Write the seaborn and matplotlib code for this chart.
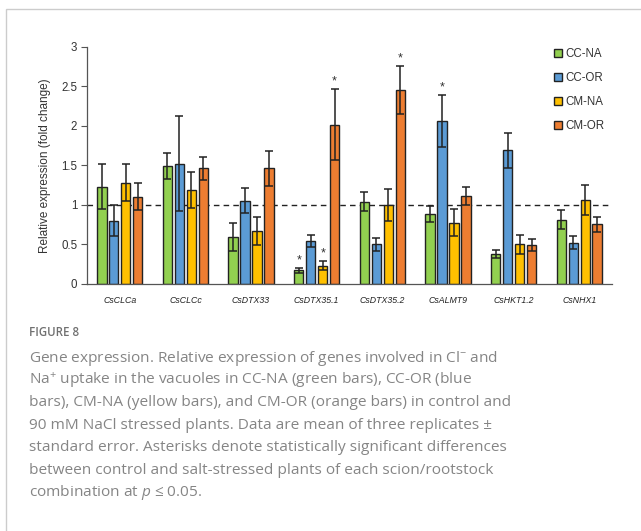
import matplotlib
matplotlib.use("Agg")
import matplotlib.pyplot as plt
import seaborn as sns
import pandas as pd
import numpy as np
from matplotlib.patches import Rectangle

genes = ["CsCLCa", "CsCLCc", "CsDTX33", "CsDTX35.1", "CsDTX35.2", "CsALMT9", "CsHKT1.2", "CsNHX1"]
series = ["CC-NA", "CC-OR", "CM-NA", "CM-OR"]

cc_na = [1.23, 1.49, 0.59, 0.17, 1.04, 0.88, 0.38, 0.81]
cc_or = [0.80, 1.52, 1.05, 0.54, 0.50, 2.06, 1.69, 0.52]
cm_na = [1.28, 1.19, 0.67, 0.23, 1.00, 0.77, 0.50, 1.06]
cm_or = [1.10, 1.46, 1.46, 2.01, 2.45, 1.11, 0.49, 0.75]

cc_na_err = [0.28, 0.17, 0.18, 0.03, 0.12, 0.10, 0.05, 0.12]
cc_or_err = [0.20, 0.60, 0.16, 0.08, 0.08, 0.33, 0.22, 0.08]
cm_na_err = [0.23, 0.23, 0.18, 0.06, 0.20, 0.17, 0.12, 0.19]
cm_or_err = [0.17, 0.15, 0.22, 0.45, 0.30, 0.11, 0.07, 0.09]

cc_na_sig = [0, 0, 0, 1, 0, 0, 0, 0]
cc_or_sig = [0, 0, 0, 0, 0, 1, 0, 0]
cm_na_sig = [0, 0, 0, 1, 0, 0, 0, 0]
cm_or_sig = [0, 0, 0, 1, 1, 0, 0, 0]

colors = ["#92D050", "#5B9BD5", "#FFC000", "#ED7D31"]

vals = [cc_na, cc_or, cm_na, cm_or]
errs = [cc_na_err, cc_or_err, cm_na_err, cm_or_err]
sigs = [cc_na_sig, cc_or_sig, cm_na_sig, cm_or_sig]

rows = []
for s, v in zip(series, vals):
    for g, x in zip(genes, v):
        rows.append({"gene": g, "series": s, "value": x})
df = pd.DataFrame(rows)

sns.set_style("white")
plt.rcParams["font.family"] = ["Open Sans", "DejaVu Sans"]
plt.rcParams["mathtext.fontset"] = "custom"
plt.rcParams["mathtext.rm"] = "Open Sans"
plt.rcParams["mathtext.it"] = "Open Sans:italic"

fig = plt.figure(figsize=(6.41, 5.31), dpi=100)
fig.patch.set_facecolor("white")
ax = fig.add_axes([87 / 641, 1 - 283.7 / 531, (612 - 87) / 641, (283.7 - 46.7) / 531])

sns.barplot(data=df, x="gene", y="value", hue="series", order=genes, hue_order=series,
            palette=colors, saturation=1, errorbar=None, width=0.73, gap=0.22, edgecolor="#222222",
            linewidth=1.0, ax=ax, legend=True)

for cont, e, sg in zip(ax.containers, errs, sigs):
    xs = [p.get_x() + p.get_width() / 2 for p in cont.patches]
    hs = [p.get_height() for p in cont.patches]
    ax.errorbar(xs, hs, yerr=e, fmt="none", ecolor="#222222", elinewidth=1.1, capsize=3, capthick=1.1, zorder=5)
    for x, h, err, flag in zip(xs, hs, e, sg):
        if flag:
            ax.text(x, h + err + 0.02, "*", ha="center", va="bottom", fontsize=9, color="#333333",
                    family=["Liberation Sans", "DejaVu Sans"])

ax.axhline(1, color="#222222", lw=1, ls=(0, (4, 3)), zorder=0.5)

ax.set_xlim(-0.5, 7.5)
ax.set_ylim(0, 3)
ax.set_yticks([0, 0.5, 1, 1.5, 2, 2.5, 3])
ax.set_yticklabels(["0", "0.5", "1", "1.5", "2", "2.5", "3"])
ax.tick_params(axis="y", which="both", left=True, length=4, width=0.8, color="#555555",
               labelsize=8.3, labelcolor="#333333", pad=3)
ax.tick_params(axis="x", length=0, pad=9)
for lab in ax.get_xticklabels():
    lab.set_fontstyle("italic")
    lab.set_fontsize(6.3)
    lab.set_color("#222222")
    lab.set_family(["Liberation Sans Narrow", "Liberation Sans", "DejaVu Sans"])
for lab in ax.get_yticklabels():
    lab.set_family(["Liberation Sans", "DejaVu Sans"])
ax.set_xlabel("")
ax.set_ylabel("Relative expression (fold change)", fontsize=8.5, color="#333333", labelpad=7)
ax.yaxis.label.set_family(["Liberation Sans", "DejaVu Sans"])
for sp in ["top", "right"]:
    ax.spines[sp].set_visible(False)
for sp in ["left", "bottom"]:
    ax.spines[sp].set_color("#555555")
    ax.spines[sp].set_linewidth(0.9)

leg = ax.legend(loc="upper left", bbox_to_anchor=(549 / 641, 1 - 43 / 531), bbox_transform=fig.transFigure,
                frameon=False, fontsize=8.3, handlelength=0.7, handleheight=0.7, handletextpad=0.3,
                labelspacing=1.05, borderaxespad=0)
for t in leg.get_texts():
    t.set_color("#333333")
    t.set_family(["Liberation Sans", "DejaVu Sans"])

# outer frame
fig.patches.append(Rectangle((6 / 641, -0.5), 1.5, 1.5 - 9 / 531, transform=fig.transFigure,
                             fill=False, edgecolor="#cccccc", lw=1.0))

fig.text(29 / 641, 1 - 332 / 531, "FIGURE 8", fontsize=8.3, color="#707070", fontweight="semibold",
         va="center", ha="left")
caption = [
    "Gene expression. Relative expression of genes involved in Cl$^{-}$ and",
    "Na$^{+}$ uptake in the vacuoles in CC-NA (green bars), CC-OR (blue",
    "bars), CM-NA (yellow bars), and CM-OR (orange bars) in control and",
    "90 mM NaCl stressed plants. Data are mean of three replicates \u00b1",
    "standard error. Asterisks denote statistically significant differences",
    "between control and salt-stressed plants of each scion/rootstock",
    "combination at $p$ \u2264 0.05.",
]
for i, line in enumerate(caption):
    fig.text(29 / 641, 1 - (358 + i * 22.4) / 531, line, fontsize=11.1, color="#858585",
             va="center", ha="left", family=["Open Sans", "DejaVu Sans"])

fig.savefig("out.png", dpi=100, facecolor="white")
